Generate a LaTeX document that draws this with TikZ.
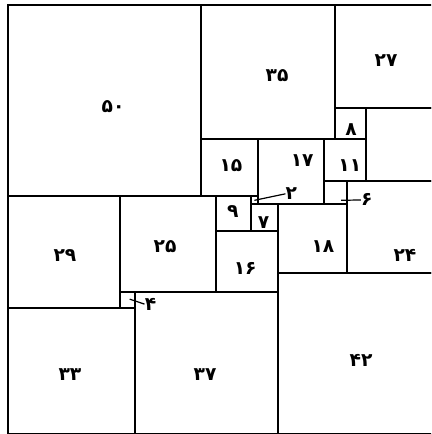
\documentclass[tikz,border=0pt]{standalone}
\usepackage{fontspec}
\newfontfamily\fafont[Script=Arabic]{DejaVu Sans}
\begin{document}
\begin{tikzpicture}
\useasboundingbox (0,0) rectangle (323.25pt,-325.5pt);
\clip (0,0) rectangle (323.25pt,-325.5pt);
\begin{scope}[shift={(6pt,-3.75pt)}, x=2.8875pt, y=-2.8725pt,
  sq/.style={draw, line width=1.5pt},
  lbl/.style={font=\fafont\bfseries\fontsize{14}{14}\selectfont, inner sep=0pt},
  leader/.style={line width=0.9pt}]
% squares (x0,y0) rectangle (x1,y1), units of the 112 squared square
\draw[sq] (0,0) rectangle (50,50);
\draw[sq] (50,0) rectangle (85,35);
\draw[sq] (85,0) rectangle (112,27);
\draw[sq] (85,27) rectangle (93,35);
\draw[sq] (93,27) rectangle (112,46);
\draw[sq] (50,35) rectangle (65,50);
\draw[sq] (65,35) rectangle (82,52);
\draw[sq] (82,35) rectangle (93,46);
\draw[sq] (82,46) rectangle (88,52);
\draw[sq] (88,46) rectangle (112,70);
\draw[sq] (0,50) rectangle (29,79);
\draw[sq] (29,50) rectangle (54,75);
\draw[sq] (54,50) rectangle (63,59);
\draw[sq] (63,50) rectangle (65,52);
\draw[sq] (63,52) rectangle (70,59);
\draw[sq] (70,52) rectangle (88,70);
\draw[sq] (54,59) rectangle (70,75);
\draw[sq] (70,70) rectangle (112,112);
\draw[sq] (29,75) rectangle (33,79);
\draw[sq] (33,75) rectangle (70,112);
\draw[sq] (0,79) rectangle (33,112);
% labels
\node[lbl] (l50) at (27.3,26.4) {۵۰};
\node[lbl] (l35) at (69.9,18.3) {۳۵};
\node[lbl] (l27) at (98.2,14.4) {۲۷};
\node[lbl] (l8) at (89.1,32.6) {۸};
\node[lbl] (l15) at (57.9,41.8) {۱۵};
\node[lbl] (l17) at (76.4,40.5) {۱۷};
\node[lbl] (l11) at (88.8,41.8) {۱۱};
\node[lbl] (l2) at (73.6,49.3) {۲};
\node[lbl] (l9) at (58.4,54) {۹};
\node[lbl] (l7) at (66.4,56.7) {۷};
\node[lbl] (l18) at (81.8,63.2) {۱۸};
\node[lbl] (l16) at (61.6,68.7) {۱۶};
\node[lbl] (l24) at (103.1,65.3) {۲۴};
\node[lbl] (l29) at (14.8,65.3) {۲۹};
\node[lbl] (l25) at (40.8,63.2) {۲۵};
\node[lbl] (l6) at (93.2,50.9) {۶};
\node[lbl] (l4) at (37,78.1) {۴};
\node[lbl] (l33) at (16.1,96.6) {۳۳};
\node[lbl] (l37) at (51.2,96.6) {۳۷};
\node[lbl] (l42) at (91.7,92.9) {۴۲};
% leaders
\coordinate (p2) at (64,51);
\coordinate (p6) at (86.5,51);
\coordinate (p4) at (31.6,76.8);
\draw[leader] (p2) -- (l2.west);
\draw[leader] (p6) -- (l6.west);
\draw[leader] (p4) -- (l4.west);
\end{scope}
\end{tikzpicture}
\end{document}
